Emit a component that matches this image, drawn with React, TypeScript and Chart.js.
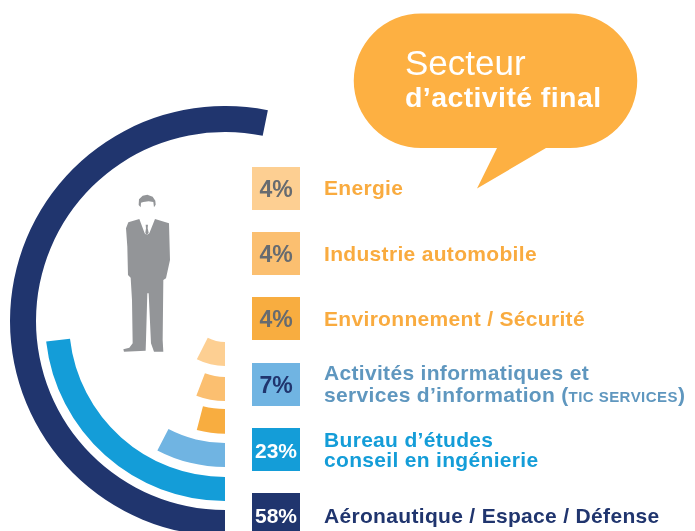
import React, { useEffect, useRef } from "react";
import { Chart, registerables } from "chart.js";

Chart.register(...registerables);

// Chart values
const sectors = ["Energie", "Industrie automobile", "Environnement / Sécurité", "Activités informatiques et services d’information (TIC SERVICES)", "Bureau d’études conseil en ingénierie", "Aéronautique / Espace / Défense"];
const percents = [4, 4, 4, 7, 23, 58];
// angular sweep of each ring (degrees)
const sweeps = [27, 21, 14.5, 27.6, 83.5, 191.5];
const ringColors = ["#fdcf92", "#fbbf70", "#f8ad40", "#70b4e2", "#149dd8", "#20356e"];

const pctColors = ["#666b70", "#666b70", "#666b70", "#20356e", "#ffffff", "#ffffff"];
const labelColors = ["#f9ab3f", "#f9ab3f", "#f9ab3f", "#5f97bf", "#149dd8", "#20356e"];

const FONT = "'Liberation Sans', Arial, sans-serif";

function ring(i: number, weight: number) {
  return {
    label: sectors[i],
    data: [percents[i]],
    backgroundColor: ringColors[i],
    borderWidth: 0,
    circumference: sweeps[i],
    weight,
  };
}
function gap(weight: number) {
  return { label: "", data: [1], backgroundColor: "rgba(0,0,0,0)", borderWidth: 0, circumference: 360, weight };
}

function makeChart(canvas: HTMLCanvasElement, datasets: any[], cutout: number) {
  return new Chart(canvas, {
    type: "doughnut",
    data: { labels: [""], datasets },
    options: {
      responsive: false,
      animation: false,
      rotation: 180,
      cutout,
      plugins: { legend: { display: false }, tooltip: { enabled: false } },
    },
  });
}

function Figure() {
  return (
    <g transform="translate(100 180) scale(0.3333)" fill="#939598">
      <path d="M116 75 L117 58 L128 47 L142 44 L158 50 L166 62 L167 74 L162 82 L160 66 L146 64 L130 66 L123 68 L122 82 Z" />
      <path d="M118 117 L85 127 L78 145 L82 200 L84 285 L92 293 L96 360 L98 490 L88 503 L70 508 L72 515 L137 512 L138 480 L142 340 L146 340 L153 490 L162 515 L190 515 L188 480 L190 300 L198 295 L210 240 L207 130 L165 117 L148 160 L140 165 L134 160 Z" />
      <path d="M137 134 L144 134 L143 145 L146 158 L140 166 L136 158 L138 145 Z" />
    </g>
  );
}

export default function App() {
  const mainRef = useRef<HTMLCanvasElement>(null);
  const paleRef = useRef<HTMLCanvasElement>(null);

  useEffect(() => {
    document.body.style.margin = "0";
    const main = makeChart(
      mainRef.current!,
      [ring(5, 26), gap(9), ring(4, 24), gap(10), ring(3, 24), gap(9.3), ring(2, 24.7), gap(8), ring(1, 24)],
      56,
    );
    const pale = makeChart(paleRef.current!, [ring(0, 1), gap(0.0001)], 38);
    return () => {
      main.destroy();
      pale.destroy();
    };
  }, []);

  const boxTops = [167, 232, 297, 363, 428, 493];

  return (
    <div style={{ position: "relative", width: 695, height: 531, overflow: "hidden", background: "#fff" }}>
      <canvas ref={mainRef} width={430} height={430} style={{ position: "absolute", left: 10, top: 106 }} />
      <canvas ref={paleRef} width={124} height={124} style={{ position: "absolute", left: 163, top: 242 }} />
      <svg width={695} height={531} style={{ position: "absolute", left: 0, top: 0 }} fontFamily={FONT}>
        <Figure />
        <path d="M421 13.5 H570 A67 67 0 0 1 570 148 H546 L477 188.5 L497 148 H421 A67 67 0 0 1 421 13.5 Z" fill="#fdb042" />
        <text x={405} y={75} fontSize={35} fill="#fff">Secteur</text>
        <text x={405} y={106.5} fontSize={28.5} letterSpacing={0.4} fontWeight="bold" fill="#fff">d’activité final</text>

        {boxTops.map((top, i) => (
          <g key={i}>
            <rect x={252} y={top} width={48} height={43} fill={ringColors[i]} />
            <text x={276} y={top + 29.5} fontSize={i >= 4 ? 21 : 23} fontWeight="bold" textAnchor="middle" fill={pctColors[i]}>
              {percents[i]}%
            </text>
          </g>
        ))}

        <g fontSize={21} fontWeight="bold" letterSpacing={0.32}>
          <text x={324} y={195} fill={labelColors[0]}>Energie</text>
          <text x={324} y={261} fill={labelColors[1]}>Industrie automobile</text>
          <text x={324} y={326} fill={labelColors[2]}>Environnement / Sécurité</text>
          <text x={324} y={380} fill={labelColors[3]}>Activités informatiques et</text>
          <text x={324} y={401.5} fill={labelColors[3]}>services d’information (<tspan fontSize={15} letterSpacing={0.45}>TIC SERVICES</tspan>)</text>
          <text x={324} y={446.5} fill={labelColors[4]}>Bureau d’études</text>
          <text x={324} y={467} fill={labelColors[4]}>conseil en ingénierie</text>
          <text x={324} y={523} fill={labelColors[5]}>Aéronautique / Espace / Défense</text>
        </g>
      </svg>
    </div>
  );
}
